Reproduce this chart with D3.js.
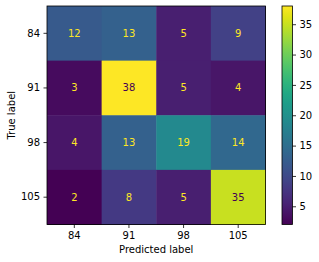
<!DOCTYPE html>
<html>
<head>
<meta charset="utf-8">
<script src="https://d3js.org/d3.v7.min.js"></script>
<style>
  body { margin: 0; background: #fff; }
  text { font-family: "DejaVu Sans", sans-serif; }
</style>
</head>
<body>
<div id="chart"></div>
<script>
// labels and counts
var labels = ["84", "91", "98", "105"];
var row84 = [12, 13, 5, 9];
var row91 = [3, 38, 5, 4];
var row98 = [4, 13, 19, 14];
var row105 = [2, 8, 5, 35];
var rows = [row84, row91, row98, row105];
var cbarTicks = [5, 10, 15, 20, 25, 30, 35];

var W = 319, H = 262;
var m = {left: 47, top: 6, size: 218.5};

var svg = d3.select("#chart").append("svg")
  .attr("width", W).attr("height", H);

var x = d3.scaleBand().domain(labels).range([m.left, m.left + m.size]);
var y = d3.scaleBand().domain(labels).range([m.top, m.top + m.size]);

var vmin = d3.min(rows, function(r) { return d3.min(r); });
var vmax = d3.max(rows, function(r) { return d3.max(r); });
var color = d3.scaleSequential(d3.interpolateViridis).domain([vmin, vmax]);
var thresh = (vmin + vmax) / 2;

var cells = [];
rows.forEach(function(r, i) {
  r.forEach(function(v, j) { cells.push({t: labels[i], p: labels[j], v: v}); });
});

svg.selectAll("rect.cell").data(cells).enter().append("rect")
  .attr("class", "cell")
  .attr("x", function(d) { return x(d.p); })
  .attr("y", function(d) { return y(d.t); })
  .attr("width", x.bandwidth() + 0.5)
  .attr("height", y.bandwidth() + 0.5)
  .attr("fill", function(d) { return color(d.v); });

svg.selectAll("text.val").data(cells).enter().append("text")
  .attr("class", "val")
  .attr("x", function(d) { return x(d.p) + x.bandwidth() / 2; })
  .attr("y", function(d) { return y(d.t) + y.bandwidth() / 2; })
  .attr("dy", "0.35em")
  .attr("text-anchor", "middle")
  .attr("font-size", 10)
  .attr("fill", function(d) { return d.v < thresh ? color(vmax) : color(vmin); })
  .text(function(d) { return d.v; });

svg.append("rect")
  .attr("x", m.left).attr("y", m.top)
  .attr("width", m.size).attr("height", m.size)
  .attr("fill", "none").attr("stroke", "#000").attr("stroke-width", 0.8);

function styleAxis(g) {
  g.select(".domain").remove();
  g.selectAll("line").attr("stroke", "#000").attr("stroke-width", 0.8);
  g.selectAll("text").attr("font-size", 10).attr("fill", "#000")
    .attr("font-family", "DejaVu Sans, sans-serif");
}

svg.append("g")
  .attr("transform", "translate(0," + (m.top + m.size) + ")")
  .call(d3.axisBottom(x).tickSize(3.5).tickPadding(3.5))
  .call(styleAxis);

svg.append("g")
  .attr("transform", "translate(" + m.left + ",0)")
  .call(d3.axisLeft(y).tickSize(3.5).tickPadding(3.5))
  .call(styleAxis);

svg.append("text")
  .attr("x", m.left + m.size / 2).attr("y", 253)
  .attr("text-anchor", "middle").attr("font-size", 10)
  .text("Predicted label");

svg.append("text")
  .attr("transform", "translate(15," + (m.top + m.size / 2) + ") rotate(-90)")
  .attr("text-anchor", "middle").attr("font-size", 10)
  .text("True label");

// colorbar
var cb = {x: 282, w: 10.5};
var cy = d3.scaleLinear().domain([vmin, vmax]).range([m.top + m.size, m.top]);
var defs = svg.append("defs");
var grad = defs.append("linearGradient").attr("id", "vir")
  .attr("x1", 0).attr("y1", 1).attr("x2", 0).attr("y2", 0);
d3.range(0, 1.001, 0.05).forEach(function(t) {
  grad.append("stop").attr("offset", t).attr("stop-color", d3.interpolateViridis(t));
});
svg.append("rect")
  .attr("x", cb.x).attr("y", m.top)
  .attr("width", cb.w).attr("height", m.size)
  .attr("fill", "url(#vir)")
  .attr("stroke", "#000").attr("stroke-width", 0.8);

svg.append("g")
  .attr("transform", "translate(" + (cb.x + cb.w) + ",0)")
  .call(d3.axisRight(cy).tickValues(cbarTicks).tickSize(3.5).tickPadding(3.5))
  .call(styleAxis);
</script>
</body>
</html>
